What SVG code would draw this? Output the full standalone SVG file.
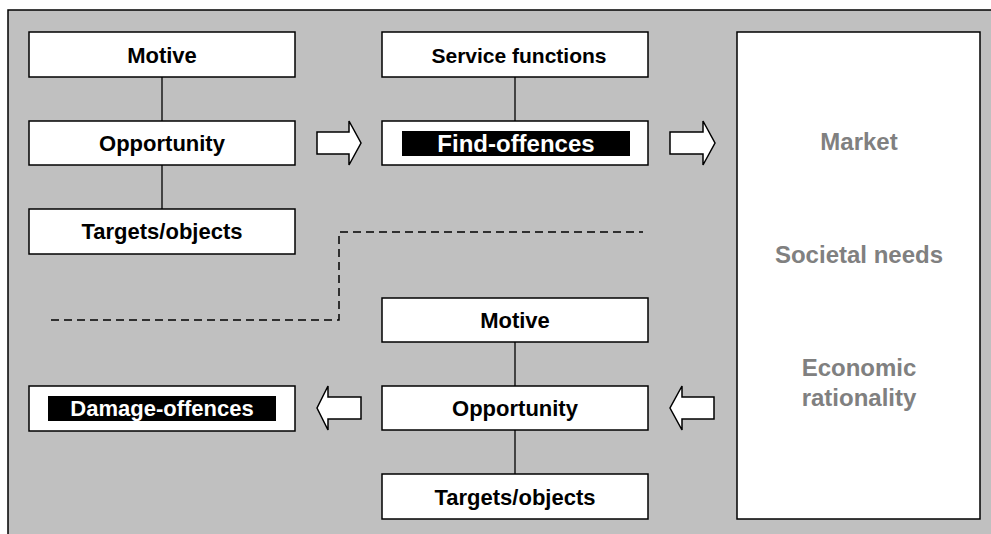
<svg xmlns="http://www.w3.org/2000/svg" width="991" height="534" viewBox="0 0 991 534">
<style>
.box{fill:#fff;stroke:#000;stroke-width:1.5}
.lbl{font-family:"Liberation Sans",Arial,sans-serif;font-weight:bold;font-size:22px;text-anchor:middle;fill:#000}
.inv{fill:#fff}
.gray{font-family:"Liberation Sans",Arial,sans-serif;font-weight:bold;font-size:24px;text-anchor:middle;fill:#808080}
.link{stroke:#000;stroke-width:1.3;fill:none}
.arrow{fill:#fff;stroke:#000;stroke-width:1.5;stroke-linejoin:miter}
.dash{stroke:#000;stroke-width:1.5;fill:none;stroke-dasharray:8 5}
</style>
<rect x="0" y="0" width="991" height="534" fill="#fff"/>
<rect x="8" y="10" width="990" height="540" fill="#c0c0c0" stroke="#000" stroke-width="1.5"/>
<g id="connectors">
<line class="link" x1="162" y1="77" x2="162" y2="121"/>
<line class="link" x1="162" y1="165" x2="162" y2="209"/>
<line class="link" x1="515" y1="77" x2="515" y2="121"/>
<line class="link" x1="515" y1="342" x2="515" y2="386"/>
<line class="link" x1="515" y1="430" x2="515" y2="474"/>
<polygon class="arrow" points="317,132 349,132 349,121 361,143 349,165 349,154 317,154"/>
<polygon class="arrow" points="670,132 703,132 703,121 715,143 703,165 703,154 670,154"/>
<polygon class="arrow" points="361,397 328,397 328,386 317,408 328,430 328,419 361,419"/>
<polygon class="arrow" points="714,397 682,397 682,386 670,408 682,430 682,419 714,419"/>
<polyline class="dash" points="51,320 339,320 339,232 643,232"/>
</g>
<g id="motive-top"><rect class="box" x="29" y="32" width="266" height="45"/><text class="lbl" x="162" y="63">Motive</text></g>
<g id="opportunity-top"><rect class="box" x="29" y="121" width="266" height="44"/><text class="lbl" x="162" y="151">Opportunity</text></g>
<g id="targets-top"><rect class="box" x="29" y="209" width="266" height="45"/><text class="lbl" x="162" y="239">Targets/objects</text></g>
<g id="service"><rect class="box" x="382" y="32" width="266" height="45"/><text class="lbl" x="519" y="63" style="font-size:21px">Service functions</text></g>
<g id="find"><rect class="box" x="382" y="121" width="266" height="44"/><rect x="402" y="131" width="228" height="25" fill="#000"/><text class="lbl inv" x="516" y="152" style="font-size:24px">Find-offences</text></g>
<g id="market"><rect class="box" x="737" y="32" width="243" height="487"/>
<text class="gray" x="859" y="150">Market</text>
<text class="gray" x="859" y="263">Societal needs</text>
<text class="gray" x="859" y="376">Economic</text>
<text class="gray" x="859" y="406">rationality</text></g>
<g id="motive-bottom"><rect class="box" x="382" y="298" width="266" height="44"/><text class="lbl" x="515" y="328">Motive</text></g>
<g id="opportunity-bottom"><rect class="box" x="382" y="386" width="266" height="44"/><text class="lbl" x="515" y="416">Opportunity</text></g>
<g id="targets-bottom"><rect class="box" x="382" y="474" width="266" height="45"/><text class="lbl" x="515" y="505">Targets/objects</text></g>
<g id="damage"><rect class="box" x="29" y="386" width="266" height="45"/><rect x="48" y="396" width="228" height="25" fill="#000"/><text class="lbl inv" x="162" y="416">Damage-offences</text></g>
</svg>
